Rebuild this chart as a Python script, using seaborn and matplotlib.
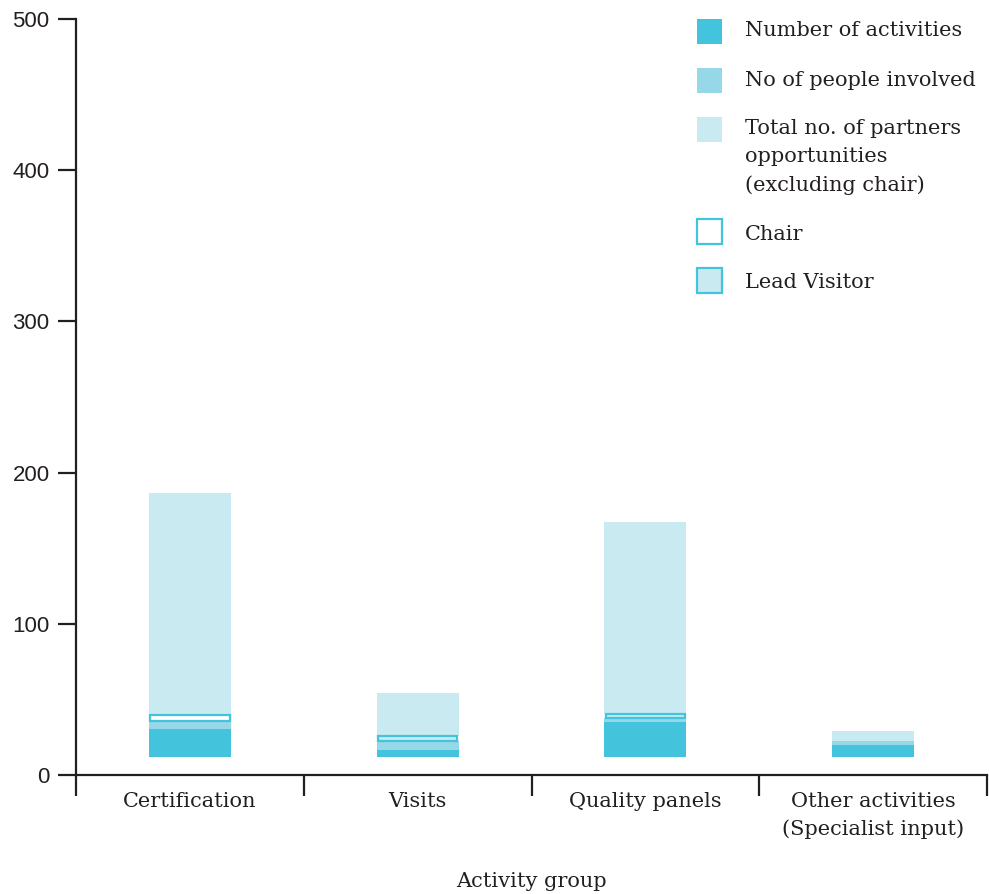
import numpy as np
import pandas as pd
import matplotlib
matplotlib.use("Agg")
import matplotlib.pyplot as plt
from matplotlib.patches import Rectangle
import seaborn as sns

# ---- data -------------------------------------------------------------
categories = ["Certification", "Visits", "Quality panels",
              "Other activities\n(Specialist input)"]
baseline = [12, 12, 12, 12]
activities = [18.5, 4.6, 23.1, 7.9]
people = [5.5, 6.0, 2.9, 2.7]
chair = [3.8, np.nan, np.nan, np.nan]
lead_visitor = [np.nan, 3.5, 2.4, np.nan]
partners = [146.8, 28.4, 127.0, 6.6]

y_ticks = [0, 100, 200, 300, 400, 500]
x_title = "Activity group"

legend_labels = ["Number of activities", "No of people involved",
                 "Total no. of partners\nopportunities\n(excluding chair)",
                 "Chair", "Lead Visitor"]

# ---- style ------------------------------------------------------------
C_DARK = "#43c4dc"
C_MID = "#97d8e8"
C_LIGHT = "#caeaf2"
INK = "#231f20"

sns.set_style("white")
SERIF = ["DejaVu Serif"]
SANS = ["Liberation Sans", "DejaVu Sans"]
plt.rcParams["font.family"] = SERIF
FS = 15

df = pd.DataFrame({
    "group": categories,
    "base": baseline,
    "activities": activities,
    "people": people,
    "chair": chair,
    "lead": lead_visitor,
    "partners": partners,
})
box = df["chair"].fillna(0) + df["lead"].fillna(0)
df["b_people"] = df["base"] + df["activities"]
df["b_box"] = df["b_people"] + df["people"]
df["b_partners"] = df["b_box"] + box

W, H = 989, 894
fig = plt.figure(figsize=(W / 100, H / 100), dpi=100)
ax = fig.add_axes([76 / W, (H - 775) / H, (987 - 76) / W, (775 - 19) / H])

bw = 0.36
common = dict(x="group", order=categories, width=bw, ax=ax, errorbar=None,
              linewidth=0, saturation=1)
sns.barplot(data=df, y="activities", bottom=df["base"], color=C_DARK,
            **common)
sns.barplot(data=df, y="people", bottom=df["b_people"], color=C_MID,
            **common)
sns.barplot(data=df, y="partners", bottom=df["b_partners"], color=C_LIGHT,
            **common)

# outlined role boxes (chair / lead visitor) sit between people and partners
outline = dict(x="group", order=categories, width=bw - 0.01, ax=ax,
               errorbar=None, linewidth=1.6, edgecolor=C_DARK, saturation=1)
for col, fill in (("chair", "white"), ("lead", C_LIGHT)):
    sub = df.dropna(subset=[col])
    sns.barplot(data=sub, y=col, bottom=sub["b_box"].to_numpy(), color=fill,
                **outline)

# ---- axes -------------------------------------------------------------
ax.set_xlim(-0.5, len(categories) - 0.5)
ax.set_ylim(0, 500)
ax.set_yticks(y_ticks)
ax.set_yticklabels([str(v) for v in y_ticks], fontfamily=SANS, fontsize=16,
                   color=INK)
ax.set_xticks(range(len(categories)))
ax.set_xticklabels(categories, fontsize=FS, color=INK, linespacing=1.55)
ax.set_xticks(np.arange(-0.5, len(categories)), minor=True)
ax.tick_params(axis="x", which="major", length=0, pad=12)
ax.tick_params(axis="x", which="minor", length=15, width=1.6, color=INK,
               direction="out", bottom=True)
ax.tick_params(axis="y", which="major", length=13, width=1.6, color=INK,
               direction="out", pad=6, left=True)
ax.set_xlabel(x_title, fontsize=FS, color=INK, labelpad=24)
ax.set_ylabel("")

for side in ("top", "right"):
    ax.spines[side].set_visible(False)
for side in ("left", "bottom"):
    ax.spines[side].set_color(INK)
    ax.spines[side].set_linewidth(1.6)
ax.spines["left"].set_bounds(0, 500)

# ---- legend -----------------------------------------------------------
def fx(px):
    return px / W


def fy(px):
    return 1 - px / H


sq = 25
entries = [
    (19, dict(facecolor=C_DARK, edgecolor="none"), 31),
    (68, dict(facecolor=C_MID, edgecolor="none"), 80),
    (117, dict(facecolor=C_LIGHT, edgecolor="none"), 157),
    (219, dict(facecolor="white", edgecolor=C_DARK, linewidth=1.6), 234),
    (268, dict(facecolor=C_LIGHT, edgecolor=C_DARK, linewidth=1.6), 283),
]
for (top, style, text_y), label in zip(entries, legend_labels):
    fig.add_artist(Rectangle((fx(697), fy(top + sq)), sq / W, sq / H,
                             transform=fig.transFigure, **style))
    fig.text(fx(745), fy(text_y), label, fontsize=FS, color=INK,
             va="center", ha="left", linespacing=1.58)

fig.savefig("out.png", dpi=100)
